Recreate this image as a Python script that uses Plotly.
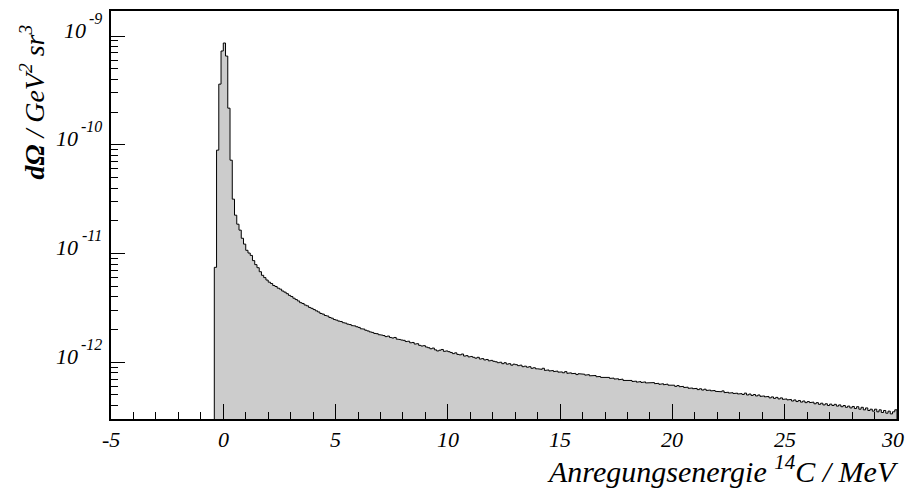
import numpy as np
import plotly.graph_objects as go

# Histogram definition (bin width 0.1 MeV, first filled bin starts at -0.4 MeV)
BIN_START = -0.4
BIN_WIDTH = 0.1
SCALE = 1e-12  # values below are in units of 1e-12

# Bin contents (units of 1e-12), -0.4 ... 29.9 MeV
peak_vals = [7.46, 89.2, 361, 728]
vals_00 = [862, 654, 217, 72.1, 31.6, 22.5, 18.6, 16.4, 13.8, 12.2]
vals_01 = [10.7, 10.1, 9.6, 8.6, 7.9, 7.4, 6.8, 6.3, 6.0, 5.7]
vals_02 = [5.45, 5.3, 5.08, 4.97, 4.80, 4.70, 4.52, 4.41, 4.27, 4.12]
vals_03 = [4.02, 3.88, 3.77, 3.66, 3.53, 3.47, 3.36, 3.30, 3.19, 3.13]
vals_04 = [3.05, 2.97, 2.90, 2.81, 2.77, 2.69, 2.66, 2.58, 2.54, 2.47]
vals_05 = [2.44, 2.39, 2.37, 2.31, 2.29, 2.24, 2.22, 2.17, 2.16, 2.12]
vals_06 = [2.09, 2.03, 2.02, 1.97, 1.94, 1.90, 1.88, 1.84, 1.83, 1.79]
vals_07 = [1.78, 1.76, 1.72, 1.74, 1.69, 1.67, 1.69, 1.63, 1.62, 1.60]
vals_08 = [1.59, 1.55, 1.56, 1.51, 1.52, 1.47, 1.48, 1.43, 1.41, 1.42]
vals_09 = [1.38, 1.36, 1.33, 1.35, 1.30, 1.27, 1.29, 1.31, 1.26, 1.27]
vals_10 = [1.25, 1.23, 1.20, 1.22, 1.18, 1.17, 1.19, 1.14, 1.15, 1.12]
vals_11 = [1.13, 1.11, 1.09, 1.11, 1.07, 1.08, 1.05, 1.06, 1.03, 1.04]
vals_12 = [1.02, 1.01, 0.99, 1.00, 0.97, 0.99, 0.96, 0.97, 0.94, 0.96]
vals_13 = [0.95, 0.93, 0.94, 0.91, 0.92, 0.90, 0.91, 0.88, 0.89, 0.87]
vals_14 = [0.87, 0.86, 0.88, 0.84, 0.85, 0.83, 0.84, 0.82, 0.83, 0.81]
vals_15 = [0.815, 0.80, 0.82, 0.79, 0.80, 0.785, 0.79, 0.77, 0.785, 0.775]
vals_16 = [0.775, 0.76, 0.77, 0.75, 0.745, 0.755, 0.735, 0.74, 0.725, 0.73]
vals_17 = [0.72, 0.725, 0.71, 0.715, 0.70, 0.705, 0.69, 0.70, 0.68, 0.685]
vals_18 = [0.675, 0.68, 0.665, 0.67, 0.655, 0.665, 0.65, 0.66, 0.645, 0.655]
vals_19 = [0.645, 0.65, 0.635, 0.64, 0.625, 0.635, 0.62, 0.63, 0.615, 0.62]
vals_20 = [0.615, 0.60, 0.61, 0.595, 0.60, 0.585, 0.59, 0.575, 0.58, 0.57]
vals_21 = [0.575, 0.56, 0.57, 0.555, 0.565, 0.55, 0.555, 0.545, 0.55, 0.54]
vals_22 = [0.54, 0.535, 0.545, 0.525, 0.53, 0.52, 0.525, 0.515, 0.52, 0.51]
vals_23 = [0.515, 0.505, 0.52, 0.50, 0.51, 0.495, 0.505, 0.49, 0.50, 0.485]
vals_24 = [0.49, 0.48, 0.485, 0.47, 0.48, 0.465, 0.475, 0.46, 0.47, 0.455]
vals_25 = [0.46, 0.45, 0.455, 0.44, 0.45, 0.435, 0.445, 0.43, 0.44, 0.425]
vals_26 = [0.435, 0.425, 0.43, 0.415, 0.425, 0.41, 0.42, 0.405, 0.415, 0.40]
vals_27 = [0.412, 0.40, 0.41, 0.395, 0.405, 0.39, 0.40, 0.385, 0.395, 0.38]
vals_28 = [0.392, 0.375, 0.39, 0.37, 0.385, 0.365, 0.38, 0.36, 0.37, 0.355]
vals_29 = [0.37, 0.35, 0.365, 0.345, 0.36, 0.34, 0.355, 0.335, 0.35, 0.365]

x_tick_vals = [-5, 0, 5, 10, 15, 20, 25, 30]
x_tick_text = ["-5", "0", "5", "10", "15", "20", "25", "30"]
y_tick_exps = [-12, -11, -10, -9]
y_tick_base = "10"
y_tick_exp_text = ["-12", "-11", "-10", "-9"]

all_vals = (peak_vals + vals_00 + vals_01 + vals_02 + vals_03 + vals_04 + vals_05 + vals_06
            + vals_07 + vals_08 + vals_09 + vals_10 + vals_11 + vals_12 + vals_13 + vals_14
            + vals_15 + vals_16 + vals_17 + vals_18 + vals_19 + vals_20 + vals_21 + vals_22
            + vals_23 + vals_24 + vals_25 + vals_26 + vals_27 + vals_28 + vals_29)
values = np.array(all_vals) * SCALE
n = len(values)
edges = BIN_START + BIN_WIDTH * np.arange(n + 1)

floor = 1e-15
xs = [edges[0]]
ys = [floor]
for i in range(n):
    xs += [edges[i], edges[i + 1]]
    ys += [values[i], values[i]]
xs.append(edges[-1])
ys.append(floor)

FONT = "Liberation Serif"
ML, MR, MT, MB = 111, 10, 11, 72

fig = go.Figure()
fig.add_trace(go.Scatter(
    x=xs, y=ys, mode="lines", fill="toself",
    fillcolor="#cccccc", line=dict(color="black", width=1),
    hoverinfo="skip", showlegend=False,
))

minor_y = [m * 10.0 ** e for e in range(-13, -8) for m in range(2, 10)]

annotations = [
    dict(text="Anregungsenergie <sup>14</sup>C / MeV", xref="paper", yref="paper",
         x=1.0, y=0.0, xanchor="right", yanchor="top", xshift=4, yshift=-29,
         showarrow=False, font=dict(family=FONT, size=30, style="italic")),
    dict(text="<b>dΩ</b> / GeV<sup>2</sup> sr<sup>3</sup>", xref="paper", yref="paper",
         x=0.0, y=1.0, xanchor="center", yanchor="top", xshift=-78, yshift=-12,
         textangle=-90, showarrow=False, font=dict(family=FONT, size=28, style="italic")),
]
# x tick labels (as annotations so the last one at the frame edge is kept)
for i, (v, t) in enumerate(zip(x_tick_vals, x_tick_text)):
    last = i == len(x_tick_vals) - 1
    annotations.append(dict(text=t, xref="x", yref="paper", x=v, y=0.0,
                            xanchor="right" if last else "center", yanchor="top",
                            xshift=9 if last else 0, yshift=-6,
                            showarrow=False, font=dict(family=FONT, size=22, style="italic")))
# y tick labels: "10" with a raised exponent, right-aligned next to the axis
for e, et in zip(y_tick_exps, y_tick_exp_text):
    exp_w = 5.5 + 8.0 * (len(et) - 1)
    annotations.append(dict(text=et, xref="paper", yref="y", x=0.0, y=e,
                            xanchor="right", yanchor="middle", xshift=-7, yshift=18,
                            showarrow=False, font=dict(family=FONT, size=16, style="italic")))
    annotations.append(dict(text=y_tick_base, xref="paper", yref="y", x=0.0, y=e,
                            xanchor="right", yanchor="middle", xshift=-7 - exp_w - 3, yshift=6,
                            showarrow=False, font=dict(family=FONT, size=22, style="italic")))

fig.update_layout(
    width=907, height=491,
    margin=dict(l=ML, r=MR, t=MT, b=MB, autoexpand=False),
    paper_bgcolor="white", plot_bgcolor="white",
    showlegend=False,
    font=dict(family=FONT, color="black"),
    xaxis=dict(
        range=[-5, 30], showgrid=False, zeroline=False, automargin=False,
        showline=True, linecolor="black", linewidth=1.5, mirror=True,
        tickmode="array", tickvals=x_tick_vals, showticklabels=False,
        ticks="inside", ticklen=15, tickwidth=1, tickcolor="black",
        minor=dict(dtick=1, ticks="inside", ticklen=7, tickwidth=1, tickcolor="black", showgrid=False),
    ),
    yaxis=dict(
        type="log", range=[-12.522, -8.770], showgrid=False, zeroline=False, automargin=False,
        showline=True, linecolor="black", linewidth=1.5, mirror=True,
        tickmode="array", tickvals=[10.0 ** e for e in y_tick_exps],
        showticklabels=False,
        ticks="inside", ticklen=14, tickwidth=1, tickcolor="black",
        minor=dict(tickmode="array", tickvals=minor_y, ticks="inside", ticklen=7,
                   tickwidth=1, tickcolor="black", showgrid=False),
    ),
    annotations=annotations,
)

fig.write_html(
    "out.html",
    config={"displayModeBar": False},
    post_script="document.body.style.margin='0';document.body.style.overflow='hidden';",
)
